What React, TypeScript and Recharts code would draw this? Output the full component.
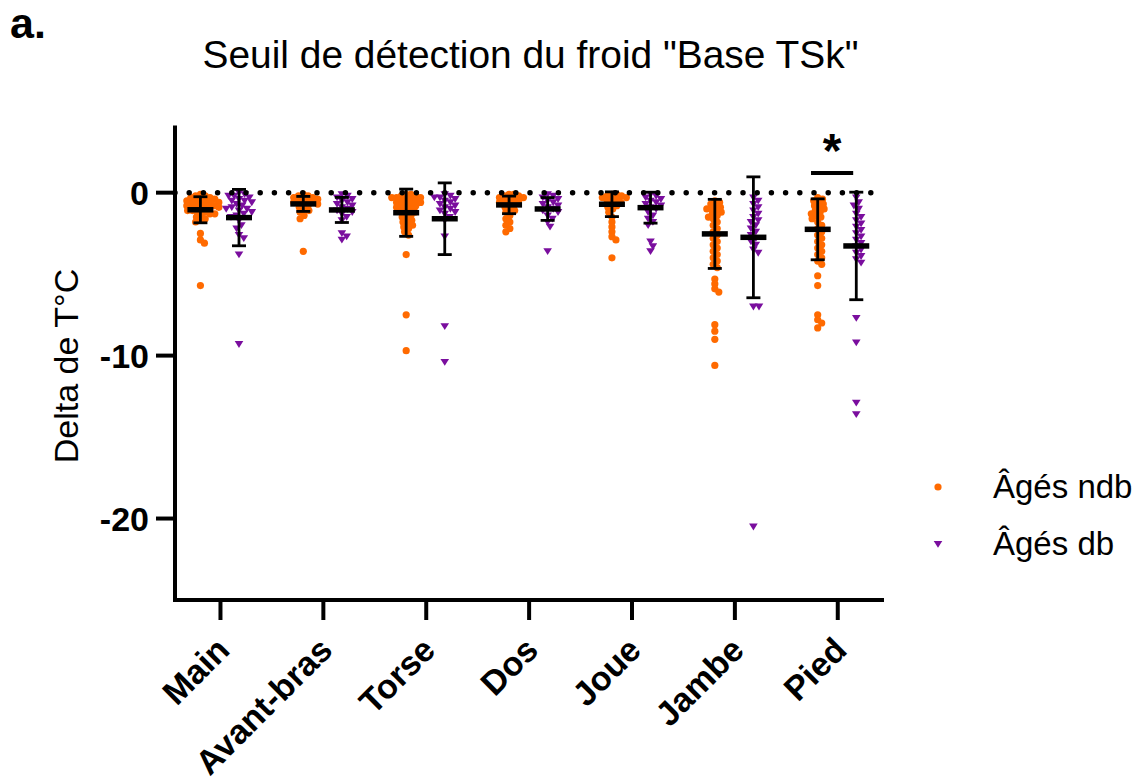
import React from 'react';
import { ComposedChart, Scatter, XAxis, YAxis, ReferenceLine } from 'recharts';

const categories = ['Main', 'Avant-bras', 'Torse', 'Dos', 'Joue', 'Jambe', 'Pied'];
const seriesNames = ['Âgés ndb', 'Âgés db'];
const yTicks = [0, -10, -20];

const ndbMain = [-0.1, -0.2, -0.2, -0.3, -0.3, -0.4, -0.4, -0.5, -0.5, -0.5, -0.6, -0.6, -0.7, -0.7, -0.8, -0.8, -0.8, -0.9, -0.9, -1.0, -1.0, -1.1, -1.1, -1.2, -1.2, -1.3, -1.3, -1.4, -1.5, -1.6, -1.7, -1.8, -2.5, -2.9, -3.1, -5.7];
const ndbAvantBras = [-0.1, -0.2, -0.2, -0.3, -0.3, -0.4, -0.4, -0.5, -0.5, -0.6, -0.6, -0.7, -0.7, -0.8, -0.9, -1.0, -1.1, -1.2, -1.4, -1.6, -3.6];
const ndbTorse = [-0.1, -0.1, -0.2, -0.2, -0.3, -0.3, -0.3, -0.4, -0.4, -0.5, -0.5, -0.6, -0.6, -0.7, -0.7, -0.8, -0.8, -0.9, -1.0, -1.0, -1.1, -1.2, -1.3, -1.4, -1.5, -1.6, -1.7, -1.8, -1.9, -2.0, -2.1, -2.2, -2.4, -2.6, -3.8, -7.5, -9.7];
const ndbDos = [-0.1, -0.1, -0.2, -0.2, -0.3, -0.3, -0.4, -0.4, -0.5, -0.5, -0.6, -0.7, -0.8, -0.9, -1.0, -1.1, -1.2, -1.4, -1.6, -1.8, -2.0, -2.2, -2.4];
const ndbJoue = [-0.1, -0.1, -0.2, -0.2, -0.3, -0.3, -0.4, -0.4, -0.5, -0.6, -0.7, -0.8, -0.9, -1.0, -1.2, -1.5, -1.8, -2.1, -2.4, -2.7, -2.9, -4.0];
const ndbJambe = [-0.5, -0.6, -0.7, -0.8, -0.9, -1.0, -1.0, -1.1, -1.2, -1.3, -1.4, -1.5, -1.6, -1.8, -2.0, -2.2, -2.4, -2.6, -2.8, -3.0, -3.2, -3.4, -3.6, -3.8, -4.0, -4.2, -4.4, -4.6, -5.3, -5.6, -5.9, -6.1, -8.1, -8.5, -9.0, -10.6];
const ndbPied = [-0.3, -0.4, -0.5, -0.6, -0.7, -0.8, -0.9, -1.0, -1.1, -1.2, -1.3, -1.4, -1.5, -1.6, -1.8, -2.0, -2.2, -2.4, -2.6, -2.8, -3.0, -3.2, -3.4, -3.6, -3.8, -4.0, -4.2, -4.4, -5.1, -5.7, -7.5, -7.8, -8.0, -8.3];

const dbMain = [0.0, -0.1, -0.2, -0.2, -0.3, -0.4, -0.5, -0.5, -0.6, -0.7, -0.8, -0.9, -1.0, -1.0, -1.1, -1.2, -1.3, -1.4, -1.5, -1.7, -2.0, -2.2, -2.6, -2.8, -3.8, -9.3];
const dbAvantBras = [-0.1, -0.2, -0.3, -0.4, -0.5, -0.6, -0.7, -0.8, -0.9, -1.0, -1.1, -1.2, -1.3, -1.5, -1.7, -2.5, -2.7, -2.9];
const dbTorse = [-0.1, -0.2, -0.3, -0.3, -0.4, -0.5, -0.6, -0.7, -0.8, -0.9, -1.0, -1.1, -1.2, -1.3, -1.5, -1.7, -2.7, -8.2, -10.4];
const dbDos = [-0.1, -0.2, -0.3, -0.4, -0.5, -0.6, -0.7, -0.8, -0.9, -1.0, -1.1, -1.2, -1.4, -1.6, -1.8, -2.1, -3.6];
const dbJoue = [-0.1, -0.2, -0.3, -0.4, -0.5, -0.6, -0.7, -0.8, -0.9, -1.0, -1.2, -1.4, -1.6, -1.8, -2.0, -3.0, -3.3, -3.6];
const dbJambe = [-0.3, -0.5, -0.7, -0.9, -1.1, -1.3, -1.5, -1.7, -1.8, -2.0, -2.2, -2.4, -2.6, -2.8, -3.0, -3.2, -3.5, -3.7, -7.0, -7.0, -20.5];
const dbPied = [-0.3, -0.6, -0.8, -1.0, -1.3, -1.5, -1.7, -1.9, -2.1, -2.3, -2.5, -2.7, -2.9, -3.1, -3.3, -3.5, -3.7, -3.9, -4.1, -4.3, -7.7, -9.2, -12.9, -13.6];

const ndbMeans = [-1.05, -0.69, -1.23, -0.75, -0.71, -2.53, -2.25];
const ndbSD = [0.8, 0.46, 1.45, 0.54, 0.76, 2.12, 1.87];
const dbMeans = [-1.53, -1.06, -1.6, -1.0, -0.92, -2.74, -3.27];
const dbSD = [1.73, 0.77, 2.2, 0.7, 0.95, 3.71, 3.3];

const ndbGroups = [ndbMain, ndbAvantBras, ndbTorse, ndbDos, ndbJoue, ndbJambe, ndbPied];
const dbGroups = [dbMain, dbAvantBras, dbTorse, dbDos, dbJoue, dbJambe, dbPied];

const ORANGE = '#FF6A00';
const PURPLE = '#7A0E9E';
const FONT = '"Liberation Sans", Arial, Helvetica, sans-serif';

// layout constants (chart geometry)
const W = 1141;
const H = 783;
const PLOT_LEFT = 175;
const PLOT_RIGHT = 882;
const PLOT_TOP = 127.5;
const PLOT_BOTTOM = 600;
const X_AXIS_H = 150;
const Y_AXIS_W = 80;
const X_DOMAIN: [number, number] = [-0.442, 6.43];
const Y_DOMAIN: [number, number] = [-25, 4];
const PX_PER_X = (PLOT_RIGHT - PLOT_LEFT) / (X_DOMAIN[1] - X_DOMAIN[0]);
const PX_PER_Y = (PLOT_BOTTOM - PLOT_TOP) / (Y_DOMAIN[1] - Y_DOMAIN[0]);
const NDB_SHIFT = -0.195;
const DB_SHIFT = 0.18;
const CAP_HALF = 7 / PX_PER_X;
const MEAN_HALF = 13 / PX_PER_X;
const TOP_Z = 2000;

// beeswarm placement so that markers do not overlap too much (display layout only)
function swarm(values: number[], center: number, diam: number) {
  const placed: { px: number; py: number }[] = [];
  const out: { x: number; y: number }[] = [];
  const sorted = [...values].sort((a, b) => b - a);
  for (const v of sorted) {
    const py = -v * PX_PER_Y;
    let chosen = 0;
    for (let k = 0; k < 200; k++) {
      const off = k === 0 ? 0 : (k % 2 === 1 ? 1 : -1) * Math.ceil(k / 2) * 0.8;
      const ok = placed.every((p) => (p.px - off) ** 2 + (p.py - py) ** 2 >= diam * diam);
      if (ok) {
        chosen = off;
        break;
      }
    }
    placed.push({ px: chosen, py });
    out.push({ x: center + chosen / PX_PER_X, y: v });
  }
  return out;
}

const ndbPoints = ndbGroups.flatMap((g, i) => swarm(g, i + NDB_SHIFT, 4.6));
const dbPoints = dbGroups.flatMap((g, i) => swarm(g, i + DB_SHIFT, 5.4));
const summaries = [
  ...ndbMeans.map((m, i) => ({ key: `n${i}`, x: i + NDB_SHIFT, mean: m, sd: ndbSD[i] })),
  ...dbMeans.map((m, i) => ({ key: `d${i}`, x: i + DB_SHIFT, mean: m, sd: dbSD[i] })),
];

const Dot = (props: any) => {
  const { cx, cy } = props;
  if (cx == null || cy == null) return null;
  return <circle cx={cx} cy={cy} r={3.6} fill={ORANGE} />;
};

const Tri = (props: any) => {
  const { cx, cy } = props;
  if (cx == null || cy == null) return null;
  return <path d={`M${cx - 4.3},${cy - 3.1} L${cx + 4.3},${cy - 3.1} L${cx},${cy + 3.7} Z`} fill={PURPLE} />;
};

const XTick = (props: any) => {
  const { x, y, payload } = props;
  const ax = x + 11;
  const ay = y + 30;
  return (
    <text x={ax} y={ay} transform={`rotate(-45 ${ax} ${ay})`} textAnchor="end" fontSize={34} fontWeight="bold" fill="#000" fontFamily={FONT}>
      {categories[payload.value]}
    </text>
  );
};

export default function App() {
  const summaryLines = summaries.flatMap((s) => {
    const hi = s.mean + s.sd;
    const lo = s.mean - s.sd;
    return [
      <ReferenceLine key={`${s.key}v`} zIndex={TOP_Z} segment={[{ x: s.x, y: hi }, { x: s.x, y: lo }]} stroke="#000" strokeWidth={2.8} />,
      <ReferenceLine key={`${s.key}h`} zIndex={TOP_Z} segment={[{ x: s.x - CAP_HALF, y: hi }, { x: s.x + CAP_HALF, y: hi }]} stroke="#000" strokeWidth={2.8} />,
      <ReferenceLine key={`${s.key}l`} zIndex={TOP_Z} segment={[{ x: s.x - CAP_HALF, y: lo }, { x: s.x + CAP_HALF, y: lo }]} stroke="#000" strokeWidth={2.8} />,
      <ReferenceLine key={`${s.key}m`} zIndex={TOP_Z} segment={[{ x: s.x - MEAN_HALF, y: s.mean }, { x: s.x + MEAN_HALF, y: s.mean }]} stroke="#000" strokeWidth={5.5} />,
    ];
  });

  return (
    <div style={{ position: 'absolute', left: 0, top: 0, width: W, height: H, background: '#fff', fontFamily: FONT }}>
      <div style={{ position: 'absolute', left: 10, top: 2, fontSize: 43, fontWeight: 'bold', lineHeight: 1 }}>a.</div>
      <div style={{ position: 'absolute', left: 0, width: 1061, top: 36, textAlign: 'center', fontSize: 38.9, lineHeight: 1, whiteSpace: 'nowrap' }}>
        Seuil de détection du froid "Base TSk"
      </div>
      <div
        style={{
          position: 'absolute',
          left: 66,
          top: 366,
          transform: 'translate(-50%, -50%) rotate(-90deg)',
          fontSize: 34,
          lineHeight: 1,
          whiteSpace: 'nowrap',
        }}
      >
        Delta de T°C
      </div>
      <div style={{ position: 'absolute', left: 920, top: 458, fontSize: 33, color: '#000' }}>
        <div style={{ display: 'flex', alignItems: 'center', height: 57 }}>
          <svg width={73} height={20}>
            <circle cx={18} cy={10} r={3.6} fill={ORANGE} />
          </svg>
          <span>{seriesNames[0]}</span>
        </div>
        <div style={{ display: 'flex', alignItems: 'center', height: 57 }}>
          <svg width={73} height={20}>
            <path d="M13.7,7 L22.3,7 L18,13.7 Z" fill={PURPLE} />
          </svg>
          <span>{seriesNames[1]}</span>
        </div>
      </div>
      <ComposedChart
        width={W}
        height={H}
        margin={{ top: PLOT_TOP, right: W - PLOT_RIGHT, bottom: H - PLOT_BOTTOM - X_AXIS_H, left: PLOT_LEFT - Y_AXIS_W }}
        style={{ position: 'absolute', left: 0, top: 0 }}
      >
        <XAxis
          type="number"
          dataKey="x"
          domain={X_DOMAIN}
          ticks={[0, 1, 2, 3, 4, 5, 6]}
          allowDataOverflow
          height={X_AXIS_H}
          tickSize={20}
          axisLine={{ stroke: '#000', strokeWidth: 4, strokeLinecap: 'square' }}
          tickLine={{ stroke: '#000', strokeWidth: 4 }}
          tick={<XTick />}
          interval={0}
        />
        <YAxis
          type="number"
          dataKey="y"
          domain={Y_DOMAIN}
          ticks={yTicks}
          allowDataOverflow
          width={Y_AXIS_W}
          tickSize={19}
          tickMargin={7}
          axisLine={{ stroke: '#000', strokeWidth: 4, strokeLinecap: 'square' }}
          tickLine={{ stroke: '#000', strokeWidth: 4 }}
          tick={{ fill: '#000', fontSize: 34, fontWeight: 'bold', fontFamily: FONT }}
        />
        <Scatter name={seriesNames[0]} data={ndbPoints} dataKey="y" shape={<Dot />} isAnimationActive={false} />
        <Scatter name={seriesNames[1]} data={dbPoints} dataKey="y" shape={<Tri />} isAnimationActive={false} />
        <ReferenceLine y={0} zIndex={TOP_Z} stroke="#000" strokeWidth={5.5} strokeDasharray="0 14.2" strokeLinecap="round" />
        {summaryLines}
        <ReferenceLine
          segment={[
            { x: 5.74, y: 1.2 },
            { x: 6.15, y: 1.2 },
          ]}
          zIndex={TOP_Z}
          stroke="#000"
          strokeWidth={4}
          label={{ value: '*', position: 'top', fontSize: 48, fontWeight: 'bold', fill: '#000', offset: 6 }}
        />
      </ComposedChart>
    </div>
  );
}
